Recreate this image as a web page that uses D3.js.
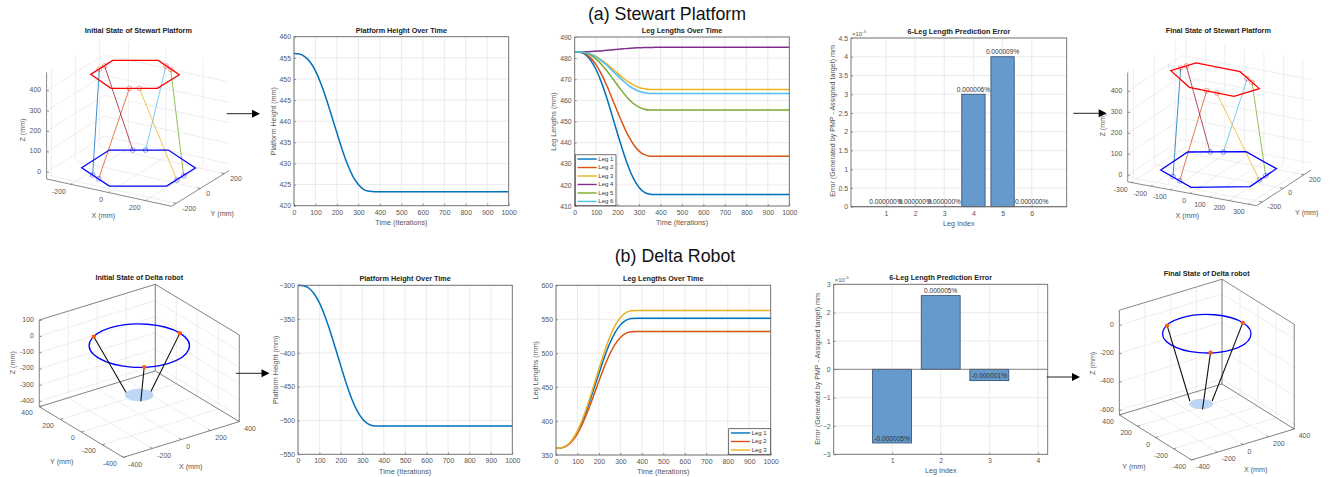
<!DOCTYPE html>
<html>
<head>
<meta charset="utf-8">
<script src="https://cdn.jsdelivr.net/npm/d3@7"></script>
<style>
body { margin: 0; background: #fff; }
text { font-family: "Liberation Sans", Arial, sans-serif; }
</style>
</head>
<body>
<div id="chart"></div>
<script>
const width = 1335;
const height = 477;

const iters = [0, 25, 50, 75, 100, 125, 150, 175, 200, 225, 250, 275, 300, 325, 350, 375, 1000];

// Stewart platform curves
const stewartHeight = [456, 455.9, 455.3, 454, 451.9, 448.9, 445.3, 441.3, 437.2, 433.2, 429.7, 426.9, 425, 423.8, 423.4, 423.3, 423.3];
const stewartLeg1 = [483, 482.8, 481.7, 478.9, 474.5, 468.4, 461, 452.6, 444.1, 435.9, 428.6, 422.8, 418.8, 416.5, 415.6, 415.4, 415.4];
const stewartLeg2 = [483, 482.9, 482, 480, 476.8, 472.3, 466.9, 460.7, 454.5, 448.5, 443.2, 439, 436, 434.3, 433.6, 433.5, 433.5];
const stewartLeg3 = [483, 482.9, 482.6, 481.9, 480.8, 479.1, 477.2, 475, 472.8, 470.6, 468.7, 467.2, 466.1, 465.5, 465.2, 465.2, 465.2];
const stewartLeg4 = [483, 483, 483, 483.1, 483.3, 483.4, 483.7, 483.9, 484.2, 484.4, 484.6, 484.8, 484.9, 485, 485, 485.1, 485.1];
const stewartLeg5 = [483, 482.9, 482.5, 481.3, 479.5, 477, 474, 470.6, 467.1, 463.8, 460.8, 458.4, 456.8, 455.8, 455.4, 455.4, 455.4];
const stewartLeg6 = [483, 482.9, 482.6, 481.8, 480.5, 478.7, 476.6, 474.1, 471.7, 469.3, 467.1, 465.5, 464.3, 463.6, 463.3, 463.3, 463.3];

// Delta robot curves
const deltaHeight = [-300, -300.6, -304, -312.5, -326, -345, -368, -393.6, -419.6, -445, -467.4, -485, -497.4, -504.7, -507.6, -508, -508];
const deltaLeg1 = [360, 360.5, 363.8, 371.5, 384, 401.5, 422.4, 446.2, 470.1, 493.5, 514.2, 530.4, 541.7, 548.4, 551.1, 551.5, 551.5];
const deltaLeg2 = [360, 360.5, 363.4, 370.3, 381.6, 397.3, 416, 437.4, 458.9, 479.9, 498.5, 513.1, 523.2, 529.2, 531.7, 532, 532];
const deltaLeg3 = [360, 360.6, 364, 372.2, 385.5, 404, 426.2, 451.4, 476.7, 501.5, 523.4, 540.7, 552.6, 559.8, 562.6, 563, 563];

// error bars, in units of 1e-5
const stewartErrors = [0, 0, 0, 3, 4, 0];
const stewartErrorLabels = ["0.000000%", "0.000000%", "0.000000%", "0.000006%", "0.000009%", "0.000000%"];
const deltaErrors = [-2.6, 2.6, -0.4];
const deltaErrorLabels = ["-0.000005%", "0.000005%", "-0.000001%"];

// Stewart geometry in mm [x, y]
const initBaseHex = [[-219, -120.5], [-222.6, 115.7], [11, 244], [233, 123.7], [234.8, -118], [7.9, -243]];
const initTopHex = [[-184.8, -98.6], [-187.4, 88.8], [-6.7, 188], [168, 91], [168.6, -92.8], [-14.8, -193.7]];
const initBaseJoints = [[-128.5, -169.6], [-81, -193], [-130, 166.5], [-79, 195], [237, -36], [236, 22]];
const initTopJoints = [[-184.7, -26.6], [57.8, -153.8], [-182.8, 14.9], [60, 148.5], [97.4, -132], [99.7, 125.5]];
const finalBaseHex = [[-218, -129.5], [-219.7, 133], [11.7, 259.8], [236.8, 129.6], [241, -131], [9, -263]];
const finalTopHex = [[-244, 15.7], [-189.6, 156.6], [39.3, 150.5], [220, -2.9], [165.7, -143.8], [-68, -135]];
const finalBaseJoints = [[-128, -179.6], [-77, -211], [-130, 180], [-77, 208], [238, -35.6], [236.8, 27]];
const finalTopJoints = [[-220.5, 67], [21.8, -136.8], [-210, 102], [111, 86], [76, -142.3], [152.4, 54]];

// Delta geometry in mm [x, y]
const deltaJoints = [[-140, 240], [280, 0], [-140, -240]];
const initDeltaEnds = [[-40, 70], [80, 0], [-40, -70]];
const finalDeltaEnds = [[-64, 97], [53, 16], [-68, -49]];

const legColors = ["#0072BD", "#D95319", "#EDB120", "#7E2F8E", "#77AC30", "#4DBEEE"];
const armColors = ["#0072BD", "#D95319", "#A2142F", "#4DBEEE", "#EDB120", "#77AC30"];
const gridColor = "#e6e6e6";
const axisColor = "#6b6b6b";
const textColor = "#555";
const tickSize = 6.9;
const labelSize = 7.2;
const titleSize = 7.25;

const svg = d3.select("#chart").append("svg")
  .attr("width", width)
  .attr("height", height);

function label(x, y, str, opts) {
  opts = opts || {};
  const t = svg.append("text")
    .attr("x", x).attr("y", y)
    .attr("text-anchor", opts.anchor || "middle")
    .attr("dominant-baseline", opts.base || "middle")
    .attr("font-size", opts.size || labelSize)
    .attr("font-weight", opts.bold ? "bold" : "normal")
    .attr("fill", opts.color || textColor)
    .text(str);
  if (opts.rotate) t.attr("transform", `rotate(-90 ${x} ${y})`);
  return t;
}

// flat axes box with matlab style inward ticks and a grid
function frame(b, xs, ys, xTicks, yTicks) {
  const g = svg.append("g");
  const grid = g.append("g").attr("stroke", gridColor).attr("stroke-width", 0.8);
  grid.selectAll(".v").data(xTicks).enter().append("line").attr("class", "v")
    .attr("x1", xs).attr("x2", xs).attr("y1", b.y0).attr("y2", b.y1);
  grid.selectAll(".h").data(yTicks).enter().append("line").attr("class", "h")
    .attr("x1", b.x0).attr("x2", b.x1).attr("y1", ys).attr("y2", ys);
  return g;
}

function axesOnTop(b, xs, ys, xTicks, yTicks, yFmt) {
  const bottom = d3.axisBottom(xs).tickValues(xTicks).tickSizeInner(-2).tickSizeOuter(0).tickPadding(4).tickFormat(d3.format("d"));
  const left = d3.axisLeft(ys).tickValues(yTicks).tickSizeInner(-2).tickSizeOuter(0).tickPadding(3).tickFormat(yFmt || d3.format("d"));
  const gx = svg.append("g").attr("transform", `translate(0,${b.y1})`).call(bottom);
  const gy = svg.append("g").attr("transform", `translate(${b.x0},0)`).call(left);
  [gx, gy].forEach((a) => {
    a.selectAll("text").attr("font-size", tickSize).attr("fill", textColor)
      .style("font-family", '"Liberation Sans", Arial, sans-serif');
    a.selectAll("line").attr("stroke", axisColor).attr("stroke-width", 0.7);
    a.select(".domain").remove();
  });
  svg.append("rect")
    .attr("x", b.x0).attr("y", b.y0)
    .attr("width", b.x1 - b.x0).attr("height", b.y1 - b.y0)
    .attr("fill", "none").attr("stroke", axisColor).attr("stroke-width", 0.9);
}

function lineChart(b, yDomain, yTicks, title, yLabel, series, legend) {
  const xs = d3.scaleLinear().domain([0, 1000]).range([b.x0, b.x1]);
  const ys = d3.scaleLinear().domain(yDomain).range([b.y1, b.y0]);
  const xTicks = d3.range(0, 1001, 100);
  frame(b, xs, ys, xTicks, yTicks);
  const line = d3.line().x((d, i) => xs(iters[i])).y((d) => ys(d)).curve(d3.curveMonotoneX);
  svg.append("g").selectAll("path").data(series).enter().append("path")
    .attr("d", line)
    .attr("fill", "none")
    .attr("stroke", (d, i) => legColors[i])
    .attr("stroke-width", 1.5);
  axesOnTop(b, xs, ys, xTicks, yTicks);
  label((b.x0 + b.x1) / 2, b.y0 - 6, title, { bold: true, size: titleSize, color: "#222" });
  label((b.x0 + b.x1) / 2, b.y1 + 17.5, "Time (Iterations)");
  label(b.x0 - b.yLabelGap, (b.y0 + b.y1) / 2, yLabel, { rotate: true });

  if (legend) {
    svg.append("rect")
      .attr("x", legend.x0).attr("y", legend.y0)
      .attr("width", legend.x1 - legend.x0).attr("height", legend.y1 - legend.y0)
      .attr("fill", "#fff").attr("stroke", "#333").attr("stroke-width", 0.7);
    const rowH = (legend.y1 - legend.y0) / series.length;
    series.forEach((s, i) => {
      const y = legend.y0 + rowH * (i + 0.5);
      svg.append("line")
        .attr("x1", legend.x0 + 2.2).attr("x2", legend.x0 + 21.5)
        .attr("y1", y).attr("y2", y)
        .attr("stroke", legColors[i]).attr("stroke-width", 1.4);
      label(legend.x0 + 23, y, "Leg " + (i + 1), { anchor: "start", size: 6, color: "#333" });
    });
  }
}

function barChart(b, xDomain, yDomain, xTicks, yTicks, values, labels, yFmt) {
  const xs = d3.scaleLinear().domain(xDomain).range([b.x0, b.x1]);
  const ys = d3.scaleLinear().domain(yDomain).range([b.y1, b.y0]);
  frame(b, xs, ys, xTicks, yTicks);
  const bw = xs(0.8) - xs(0);
  svg.append("g").selectAll("rect").data(values).enter().append("rect")
    .attr("x", (d, i) => xs(i + 1) - bw / 2)
    .attr("width", bw)
    .attr("y", (d) => ys(Math.max(d, 0)))
    .attr("height", (d) => Math.abs(ys(d) - ys(0)))
    .attr("fill", "#6699CC")
    .attr("stroke", "#2c4a70")
    .attr("stroke-width", 0.8);
  svg.append("line")
    .attr("x1", b.x0).attr("x2", b.x1).attr("y1", ys(0)).attr("y2", ys(0))
    .attr("stroke", axisColor).attr("stroke-width", 0.8);
  axesOnTop(b, xs, ys, xTicks, yTicks, yFmt);
  values.forEach((v, i) => {
    label(xs(i + 1), ys(v) - 4, labels[i], { size: 6.6, color: "#333" });
  });
  label((b.x0 + b.x1) / 2, b.y0 - 6, "6-Leg Length Prediction Error", { bold: true, size: titleSize, color: "#222" });
  label((b.x0 + b.x1) / 2, b.y1 + 17, "Leg Index");
  label(b.x0 - b.labelGap, b.labelY, "Error (Generated by PMP - Assigned target) mm", { size: 7.1, rotate: true });
  const m = label(b.x0 + 1, b.y0 - 4, "×10", { anchor: "start", size: 6 });
  m.append("tspan").attr("dy", -2.5).attr("font-size", 4.4).text("-5");
}

// orthographic 3D panel, axis vectors are pixels per 100 mm
function panel3d(c) {
  const sx = [d3.scaleLinear().domain([0, 100]).range([0, c.xv[0]]), d3.scaleLinear().domain([0, 100]).range([0, c.xv[1]])];
  const sy = [d3.scaleLinear().domain([0, 100]).range([0, c.yv[0]]), d3.scaleLinear().domain([0, 100]).range([0, c.yv[1]])];
  const sz = d3.scaleLinear().domain([0, 100]).range([0, -c.zv]);
  const p = (x, y, z) => [c.ox + sx[0](x) + sy[0](y), c.oy + sx[1](x) + sy[1](y) + sz(z)];
  const seg = (g, a, b, color, w) => g.append("line")
    .attr("x1", p(...a)[0]).attr("y1", p(...a)[1])
    .attr("x2", p(...b)[0]).attr("y2", p(...b)[1])
    .attr("stroke", color).attr("stroke-width", w);

  const [xa, xb] = c.xlim, [ya, yb] = c.ylim, [zf, zt] = c.zlim;
  const wx = c.wallX, wy = c.wallY;
  const ox = wx === xa ? xb : xa;
  const oy = wy === ya ? yb : ya;
  const grid = svg.append("g");
  c.xticks.forEach((x) => {
    seg(grid, [x, ya, zf], [x, yb, zf], gridColor, 0.7);
    seg(grid, [x, wy, zf], [x, wy, zt], gridColor, 0.7);
  });
  c.yticks.forEach((y) => {
    seg(grid, [xa, y, zf], [xb, y, zf], gridColor, 0.7);
    seg(grid, [wx, y, zf], [wx, y, zt], gridColor, 0.7);
  });
  c.zticks.forEach((z) => {
    seg(grid, [ox, wy, z], [wx, wy, z], gridColor, 0.7);
    seg(grid, [wx, wy, z], [wx, oy, z], gridColor, 0.7);
  });

  // axis edges
  const ax = svg.append("g");
  const w = 0.8;
  seg(ax, [c.xEdge, c.yEdgeOfX, zf], [c.xEdge, c.yEdgeOfX, zt], axisColor, w);
  seg(ax, [xa, c.yEdgeOfX2, zf], [xb, c.yEdgeOfX2, zf], axisColor, w);
  seg(ax, [c.xEdgeOfY, ya, zf], [c.xEdgeOfY, yb, zf], axisColor, w);
  if (c.box) {
    seg(ax, [ox, wy, zt], [wx, wy, zt], axisColor, w);
    seg(ax, [wx, wy, zt], [wx, oy, zt], axisColor, w);
    seg(ax, [wx, wy, zf], [wx, wy, zt], axisColor, w);
    seg(ax, [wx, oy, zf], [wx, oy, zt], axisColor, w);
    seg(ax, [ox, wy, zf], [wx, wy, zf], axisColor, w);
    seg(ax, [wx, wy, zf], [wx, oy, zf], axisColor, w);
  }

  // ticks and labels
  c.xticks.forEach((x) => {
    const q = p(x, c.yEdgeOfX2, zf);
    seg(ax, [x, c.yEdgeOfX2, zf], [x, c.yEdgeOfX2 + (wy - c.yEdgeOfX2) * 0.025, zf], axisColor, 0.7);
    label(q[0] + c.xOff[0], q[1] + c.xOff[1], x, { anchor: c.xOff[2], size: tickSize });
  });
  c.yticks.forEach((y) => {
    const q = p(c.xEdgeOfY, y, zf);
    seg(ax, [c.xEdgeOfY, y, zf], [c.xEdgeOfY + (wx - c.xEdgeOfY) * 0.025, y, zf], axisColor, 0.7);
    label(q[0] + c.yOff[0], q[1] + c.yOff[1], y, { anchor: c.yOff[2], size: tickSize });
  });
  c.zticks.forEach((z) => {
    const q = p(c.xEdge, c.yEdgeOfX, z);
    label(q[0] - 5.5, q[1], z, { anchor: "end", size: tickSize });
    svg.append("line").attr("x1", q[0]).attr("x2", q[0] + 2.5).attr("y1", q[1]).attr("y2", q[1] + 0.5)
      .attr("stroke", axisColor).attr("stroke-width", 0.7);
  });
  label(c.title[0], c.title[1], c.title[2], { bold: true, size: titleSize, color: "#222" });
  label(c.xl[0], c.xl[1], "X (mm)", { size: 7.2 });
  label(c.yl[0], c.yl[1], "Y (mm)", { size: 7.2 });
  label(c.zl[0], c.zl[1], "Z (mm)", { size: 7.2, rotate: true });
  return { p, sx, sy, seg };
}

const hexLine = d3.line().curve(d3.curveLinearClosed);

function stewart(c, baseHex, topHex, baseJoints, topJoints, topZ) {
  const v = panel3d(c);
  const g = svg.append("g");
  baseJoints.forEach((b, i) => {
    const t = topJoints[i];
    g.append("line")
      .attr("x1", v.p(b[0], b[1], 0)[0]).attr("y1", v.p(b[0], b[1], 0)[1])
      .attr("x2", v.p(t[0], t[1], topZ)[0]).attr("y2", v.p(t[0], t[1], topZ)[1])
      .attr("stroke", armColors[i]).attr("stroke-width", 0.9).attr("opacity", 0.85);
  });
  g.append("path").attr("d", hexLine(baseHex.map((d) => v.p(d[0], d[1], 0))))
    .attr("fill", "none").attr("stroke", "#0000ff").attr("stroke-width", 1.3);
  g.append("path").attr("d", hexLine(topHex.map((d) => v.p(d[0], d[1], topZ))))
    .attr("fill", "none").attr("stroke", "#ff0000").attr("stroke-width", 1.3);
  const dots = (pts, z, color) => g.selectAll(null).data(pts).enter().append("circle")
    .attr("cx", (d) => v.p(d[0], d[1], z)[0])
    .attr("cy", (d) => v.p(d[0], d[1], z)[1])
    .attr("r", 2.4)
    .attr("fill", "none").attr("stroke", color).attr("stroke-width", 0.7).attr("opacity", 0.55);
  dots(baseJoints, 0, "#0000ff");
  dots(topJoints, topZ, "#ff0000");
}

function delta(c, joints, ends, jointZ, disc) {
  const v = panel3d(c);
  const g = svg.append("g");
  const ring = (cx, cy, z, r) => {
    const o = v.p(cx, cy, z);
    return g.append("circle").attr("r", r)
      .attr("transform", `matrix(${c.xv[0] / 100},${c.xv[1] / 100},${c.yv[0] / 100},${c.yv[1] / 100},${o[0]},${o[1]})`)
      .attr("vector-effect", "non-scaling-stroke");
  };
  ring(disc[0], disc[1], disc[2], disc[3]).attr("fill", "#bcd6f7").attr("stroke", "none");
  ring(0, 0, jointZ, c.ringR).attr("fill", "none").attr("stroke", "#0000ff").attr("stroke-width", 1.3);
  joints.forEach((j, i) => {
    const a = v.p(j[0], j[1], jointZ);
    const b = v.p(ends[i][0], ends[i][1], disc[2]);
    g.append("line").attr("x1", a[0]).attr("y1", a[1]).attr("x2", b[0]).attr("y2", b[1])
      .attr("stroke", "#111").attr("stroke-width", 1.1);
  });
  g.selectAll(null).data(joints).enter().append("circle")
    .attr("cx", (d) => v.p(d[0], d[1], jointZ)[0])
    .attr("cy", (d) => v.p(d[0], d[1], jointZ)[1])
    .attr("r", 2.1)
    .attr("fill", "#ff5a00");
}

stewart({
  ox: 137, oy: 167.7, xv: [18.67, 4.08], yv: [12, -7.42], zv: 20.42,
  xlim: [-330, 339], ylim: [-240, 240], zlim: [-34, 488],
  wallX: -330, wallY: 240, xEdge: -330, yEdgeOfX: -240, yEdgeOfX2: -240, xEdgeOfY: 339,
  xticks: [-200, 0, 200], yticks: [-200, 0, 200], zticks: [0, 100, 200, 300, 400],
  xOff: [-5, 7.5, "end"], yOff: [6, 6, "start"],
  title: [138.3, 30.7, "Initial State of Stewart Platform"],
  xl: [103.3, 216], yl: [222.3, 214], zl: [22.7, 130]
}, initBaseHex, initTopHex, initBaseJoints, initTopJoints, 456);

stewart({
  ox: 1216.7, oy: 169, xv: [19.5, 3.6], yv: [10.42, -6.83], zv: 20.92,
  xlim: [-320, 341], ylim: [-255, 266], zlim: [-33.5, 489],
  wallX: -320, wallY: 266, xEdge: -320, yEdgeOfX: -255, yEdgeOfX2: -255, xEdgeOfY: 341,
  xticks: [-300, -200, -100, 0, 100, 200, 300], yticks: [-200, 0, 200], zticks: [0, 100, 200, 300, 400],
  xOff: [-4, 7.7, "end"], yOff: [5, 5.3, "start"],
  title: [1218.3, 30.7, "Final State of Stewart Platform"],
  xl: [1187.3, 216], yl: [1306.7, 213.3], zl: [1102.7, 125]
}, finalBaseHex, finalTopHex, finalBaseJoints, finalTopJoints, 423);

delta({
  ox: 139.3, oy: 343.7, xv: [14.5, -4.47], yv: [-10.5, -6.33], zv: 16.2,
  xlim: [-400, 400], ylim: [-400, 400], zlim: [-435, 100], box: true, ringR: 280,
  wallX: 400, wallY: 400, xEdge: -400, yEdgeOfX: 400, yEdgeOfX2: -400, xEdgeOfY: -400,
  xticks: [-400, -200, 0, 200, 400], yticks: [-400, -200, 0, 200, 400], zticks: [-400, -300, -200, -100, 0, 100],
  xOff: [5, 7.7, "start"], yOff: [-6.5, 6.5, "end"],
  title: [139.3, 278.3, "Initial State of Delta robot"],
  xl: [190.7, 466.7], yl: [61.7, 462.3], zl: [12.7, 362.7]
}, deltaJoints, initDeltaEnds, -12, [0, 0, -317, 80]);

delta({
  ox: 1206.8, oy: 332, xv: [12.83, -3.87], yv: [-9.03, -5.63], zv: 14.17,
  xlim: [-400, 400], ylim: [-400, 400], zlim: [-635, 104], box: true, ringR: 282,
  wallX: 400, wallY: 400, xEdge: -400, yEdgeOfX: 400, yEdgeOfX2: -400, xEdgeOfY: -400,
  xticks: [-400, -200, 0, 200, 400], yticks: [-400, -200, 0, 200, 400], zticks: [-600, -400, -200, 0],
  xOff: [4.5, 7.3, "start"], yOff: [-5.5, 7.3, "end"],
  title: [1206.7, 274.3, "Final State of Delta robot"],
  xl: [1255.7, 470], yl: [1134, 466.7], zl: [1093.3, 363.3]
}, deltaJoints, finalDeltaEnds, -12, [-30, 20, -508, 76]);

lineChart({ x0: 294, x1: 508.7, y0: 36.7, y1: 205.7, yLabelGap: 19.7 }, [420, 460], d3.range(420, 461, 5),
  "Platform Height Over Time", "Platform Height (mm)", [stewartHeight]);
lineChart({ x0: 574.7, x1: 789.3, y0: 37, y1: 206, yLabelGap: 20.4 }, [410, 490], d3.range(410, 491, 10),
  "Leg Lengths Over Time", "Leg Lengths (mm)",
  [stewartLeg1, stewartLeg2, stewartLeg3, stewartLeg4, stewartLeg5, stewartLeg6],
  { x0: 575.3, x1: 616, y0: 154.8, y1: 205.7 });
lineChart({ x0: 298, x1: 512.3, y0: 285.3, y1: 454.3, yLabelGap: 22.3 }, [-550, -300], d3.range(-550, -299, 50),
  "Platform Height Over Time", "Platform Height (mm)", [deltaHeight]);
lineChart({ x0: 556, x1: 770.7, y0: 285.3, y1: 455, yLabelGap: 20.3 }, [350, 600], d3.range(350, 601, 50),
  "Leg Lengths Over Time", "Leg Lengths (mm)",
  [deltaLeg1, deltaLeg2, deltaLeg3],
  { x0: 728.7, x1: 770.7, y0: 428.7, y1: 454.3 });

barChart({ x0: 851, x1: 1066.7, y0: 38, y1: 206.7, labelY: 121, labelGap: 17.7 }, [-0.2, 7.2], [0, 4.5],
  [1, 2, 3, 4, 5, 6], [0, 0.5, 1, 1.5, 2, 2.5, 3, 3.5, 4, 4.5], stewartErrors, stewartErrorLabels, d3.format("~g"));
barChart({ x0: 833.7, x1: 1047.7, y0: 284.3, y1: 454.3, labelY: 369, labelGap: 15.4 }, [-0.2, 4.2], [-3, 3],
  [1, 2, 3, 4], [-3, -2, -1, 0, 1, 2, 3], deltaErrors, deltaErrorLabels, d3.format("d"));

label(667, 15, "(a) Stewart Platform", { size: 17.8, color: "#111" });
label(675, 257.5, "(b) Delta Robot", { size: 17.8, color: "#111" });

// arrows between the panels
const arrows = [[226.7, 113.7, 260], [1073.3, 113.3, 1106.7], [236, 373.3, 269.5], [1046.7, 377, 1080]];
arrows.forEach((a) => {
  svg.append("line").attr("x1", a[0]).attr("y1", a[1]).attr("x2", a[2] - 6).attr("y2", a[1])
    .attr("stroke", "#222").attr("stroke-width", 1);
  svg.append("path")
    .attr("d", `M${a[2]},${a[1]}L${a[2] - 8},${a[1] - 4}L${a[2] - 8},${a[1] + 4}Z`)
    .attr("fill", "#000");
});
</script>
</body>
</html>
